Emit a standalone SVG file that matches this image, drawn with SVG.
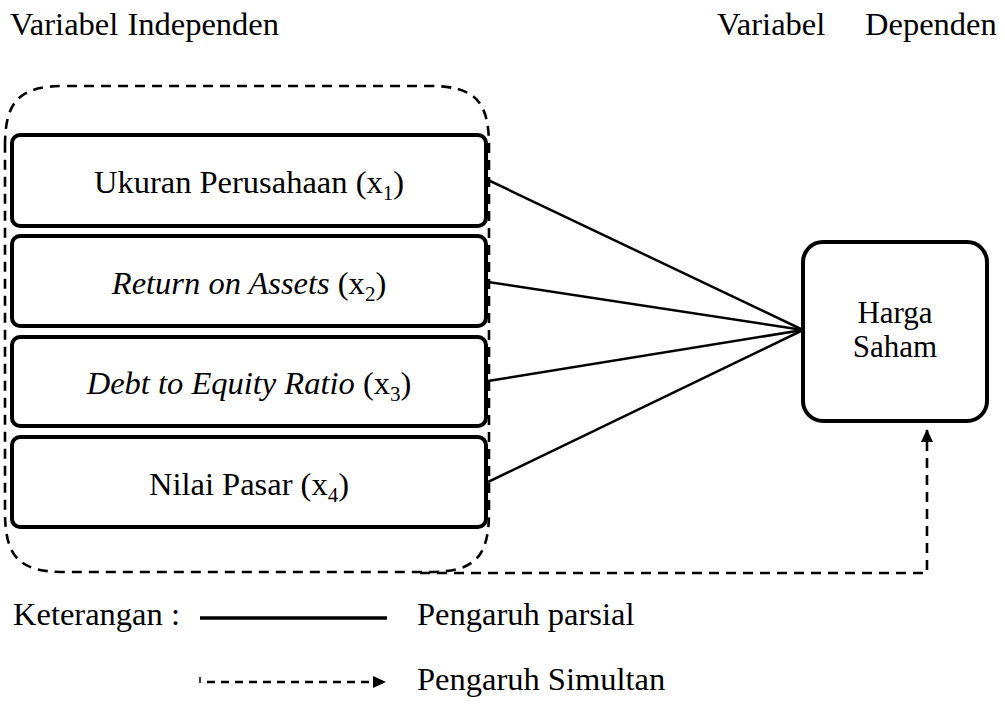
<svg xmlns="http://www.w3.org/2000/svg" width="1005" height="704" viewBox="0 0 1005 704">
<style>
text{font-family:'Liberation Serif','Times New Roman',serif;font-size:32.5px;fill:#000}
.box{fill:#fff;stroke:#000;stroke-width:4}
.solid{stroke:#000;stroke-width:2.5;fill:none}
.dash{stroke:#000;stroke-width:2.6;fill:none;stroke-dasharray:10,7}
.sub{font-size:21px}
.it{font-style:italic}
.hs{font-size:31px}
</style>
<defs>
<marker id="arr" markerWidth="13" markerHeight="12" refX="12" refY="6" orient="auto" markerUnits="userSpaceOnUse">
<path d="M0,0 L13,6 L0,12 Z" fill="#000"/>
</marker>
</defs>
<rect width="1005" height="704" fill="#fff"/>
<text x="10" y="35" word-spacing="1">Variabel Independen</text>
<text x="717" y="35">Variabel<tspan x="865">Dependen</tspan></text>
<g id="group-independen">
<path class="dash" d="M5,146 C5,100 20,86 65,86 L429,86 C474,86 489,100 489,146 L489,512 C489,558 474,572 429,572 L65,572 C20,572 5,558 5,512 Z"/>
</g>
<g id="connectors">
<line class="solid" x1="488" y1="180" x2="803" y2="330"/>
<line class="solid" x1="488" y1="282" x2="803" y2="330"/>
<line class="solid" x1="488" y1="381" x2="803" y2="330"/>
<line class="solid" x1="488" y1="482" x2="803" y2="330"/>
<path class="dash" d="M420,573 L927,573 L927,430" marker-end="url(#arr)"/>
</g>
<g id="node-x1">
<rect class="box" x="12" y="135" width="474" height="91" rx="8"/>
<text x="249" y="193" text-anchor="middle">Ukuran Perusahaan (x<tspan class="sub" dy="7">1</tspan><tspan dy="-7">)</tspan></text>
</g>
<g id="node-x2">
<rect class="box" x="12" y="236" width="474" height="90" rx="8"/>
<text x="249" y="294" text-anchor="middle"><tspan class="it">Return on Assets</tspan> (x<tspan class="sub" dy="7">2</tspan><tspan dy="-7">)</tspan></text>
</g>
<g id="node-x3">
<rect class="box" x="12" y="337" width="474" height="89" rx="8"/>
<text x="249" y="394" text-anchor="middle"><tspan class="it">Debt to Equity Ratio</tspan> (x<tspan class="sub" dy="7">3</tspan><tspan dy="-7">)</tspan></text>
</g>
<g id="node-x4">
<rect class="box" x="12" y="437" width="474" height="90" rx="8"/>
<text x="249" y="495" text-anchor="middle">Nilai Pasar (x<tspan class="sub" dy="7">4</tspan><tspan dy="-7">)</tspan></text>
</g>
<g id="node-harga">
<rect class="box" x="803" y="242" width="184" height="179" rx="20"/>
<text class="hs" x="895" y="323" text-anchor="middle">Harga</text>
<text class="hs" x="895" y="357" text-anchor="middle">Saham</text>
</g>
<g id="legend">
<text x="13" y="625">Keterangan :</text>
<line x1="200" y1="618" x2="387" y2="618" stroke="#000" stroke-width="3.5"/>
<text x="417" y="625">Pengaruh parsial</text>
<line x1="200" y1="677" x2="200" y2="683" stroke="#000" stroke-width="1.5"/>
<path class="dash" d="M207,682 L385,682" marker-end="url(#arr)" style="stroke-dasharray:8,6"/>
<text x="417" y="690">Pengaruh Simultan</text>
</g>
</svg>
